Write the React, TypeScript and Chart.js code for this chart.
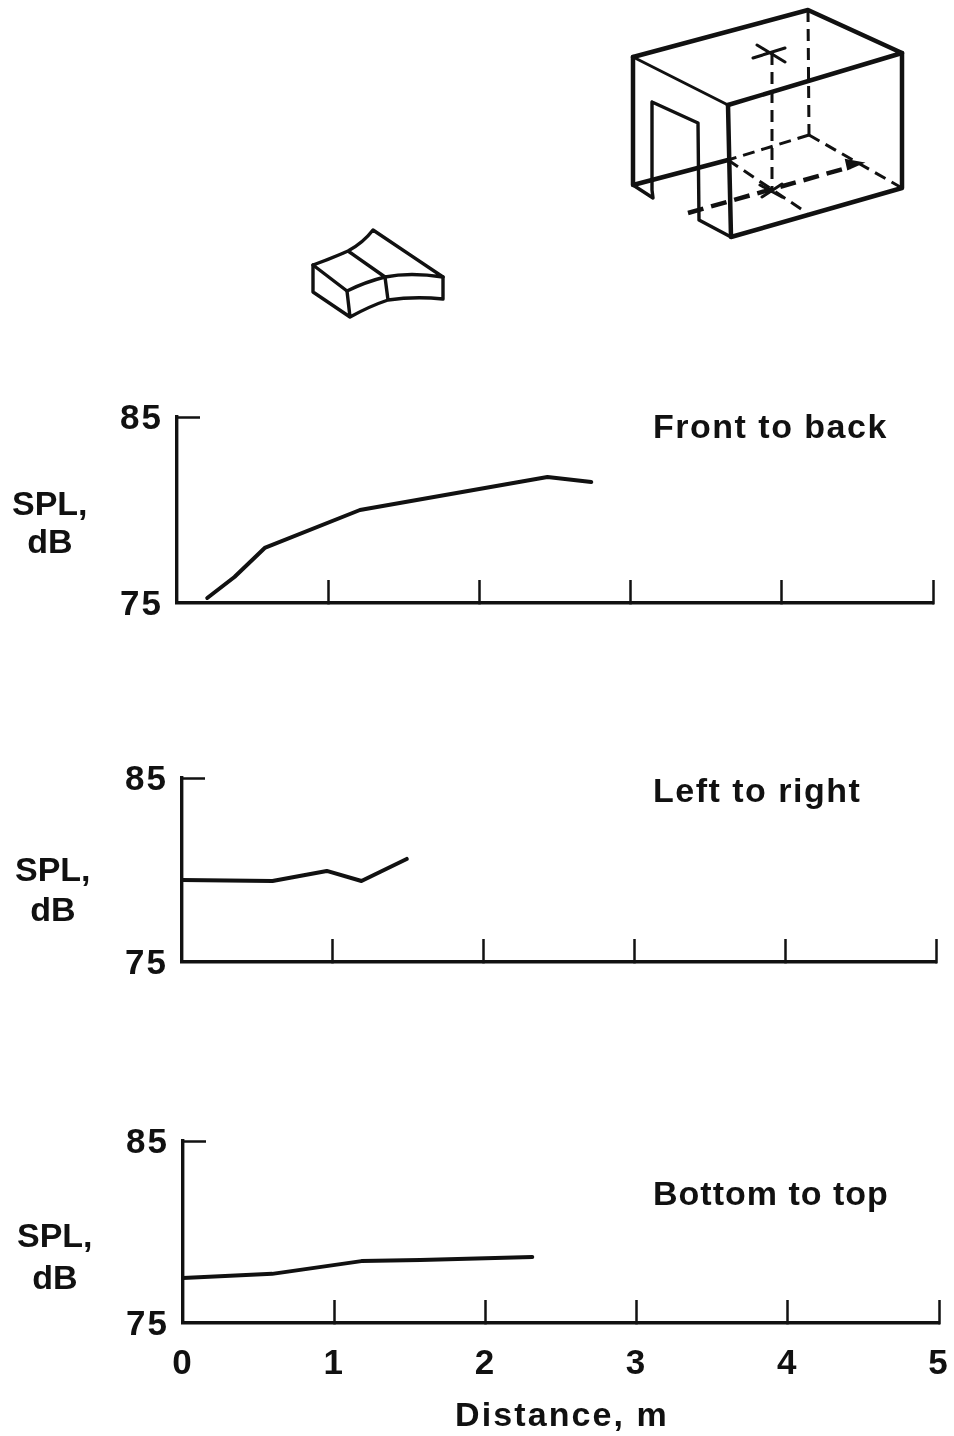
import React, { useEffect, useRef } from "react";
import { Chart, registerables } from "chart.js";

Chart.register(...registerables);

const frontX = [0.2, 0.38, 0.58, 1.21, 2.45, 2.74];
const frontY = [75.27, 76.4, 77.96, 80, 81.77, 81.5];
const leftX = [0, 0.6, 0.96, 1.19, 1.49];
const leftY = [79.46, 79.4, 79.95, 79.4, 80.6];
const bottomX = [0, 0.59, 1.18, 1.57, 2.31];
const bottomY = [77.47, 77.7, 78.4, 78.46, 78.63];
const xTicks = [0, 1, 2, 3, 4, 5];
const yTicks = [75, 85];

const FONT = "'Liberation Sans', Arial, sans-serif";
const INK = "#111";

type Panel = {
  xs: number[]; ys: number[]; left: number; right: number; top: number; bottom: number; showX: boolean;
};
const panels: Panel[] = [
  { xs: frontX, ys: frontY, left: 177, right: 933, top: 417, bottom: 603, showX: false },
  { xs: leftX, ys: leftY, left: 182, right: 936, top: 778, bottom: 962, showX: false },
  { xs: bottomX, ys: bottomY, left: 183, right: 939, top: 1141, bottom: 1323, showX: true },
];

const spacing = {
  id: "spacing",
  beforeDraw(chart: any) {
    chart.ctx.letterSpacing = "2px";
  },
};

function PanelChart({ p }: { p: Panel }) {
  const ref = useRef<HTMLCanvasElement>(null);
  const pad = 40;
  const axisH = p.showX ? 80 : 30;
  useEffect(() => {
    const chart = new Chart(ref.current!, {
      type: "line",
      plugins: [spacing],
      data: {
        datasets: [{
          data: p.xs.map((x, i) => ({ x, y: p.ys[i] })),
          borderColor: INK, borderWidth: 4, pointRadius: 0, tension: 0, fill: false,
          borderJoinStyle: "round", borderCapStyle: "round",
        }],
      },
      options: {
        animation: false, responsive: false, maintainAspectRatio: false,
        layout: { padding: { left: 0, top: pad, bottom: 0, right: 954 - p.right } },
        plugins: { legend: { display: false }, title: { display: false }, tooltip: { enabled: false } },
        scales: {
          x: {
            type: "linear", min: 0, max: 5,
            afterFit: (s: any) => { s.height = axisH; s.paddingLeft = 0; s.paddingRight = 0; },
            afterBuildTicks: (s: any) => { s.ticks = xTicks.map((value) => ({ value })); },
            grid: {
              drawOnChartArea: false, drawTicks: true, tickLength: -23, tickWidth: 2.5,
              tickColor: (c: any) => (c.tick && c.tick.value === 0 ? "rgba(0,0,0,0)" : INK),
            },
            border: { display: true, color: INK, width: 3.4 },
            ticks: {
              display: p.showX, autoSkip: false, maxRotation: 0, padding: 43, color: INK,
              font: { family: FONT, size: 35, weight: "bold" },
            },
          },
          y: {
            type: "linear", min: 75, max: 85,
            afterFit: (s: any) => { s.width = p.left; s.paddingTop = 0; s.paddingBottom = 0; },
            afterBuildTicks: (s: any) => { s.ticks = yTicks.map((value) => ({ value })); },
            grid: {
              drawOnChartArea: false, drawTicks: true, tickLength: -23, tickWidth: 2.5,
              tickColor: (c: any) => (c.tick && c.tick.value === 75 ? "rgba(0,0,0,0)" : INK),
            },
            border: { display: true, color: INK, width: 3.4 },
            ticks: {
              autoSkip: false, padding: 37, labelOffset: 2, color: INK,
              font: { family: FONT, size: 35, weight: "bold" },
            },
          },
        },
      },
    } as any);
    return () => chart.destroy();
  }, []);
  return (
    <canvas
      ref={ref}
      width={954}
      height={p.bottom - p.top + pad + axisH}
      style={{ position: "absolute", left: 0, top: p.top - pad, width: 954, height: p.bottom - p.top + pad + axisH }}
    />
  );
}

const labelStyle = (left: number, top: number, size = 34, ls = 1.5): React.CSSProperties => ({
  position: "absolute", left, top, fontFamily: FONT, fontWeight: 700, fontSize: size, lineHeight: 1,
  color: INK, whiteSpace: "nowrap", letterSpacing: ls,
});

const Spl = ({ x, y, lh }: { x: number; y: number; lh: number }) => (
  <div style={{ ...labelStyle(x, y), lineHeight: `${lh}px`, textAlign: "center", letterSpacing: 0 }}>
    SPL,<br />dB
  </div>
);

function Diagrams() {
  const thick = { stroke: INK, strokeWidth: 4.5, fill: "none", strokeLinecap: "round" as const, strokeLinejoin: "round" as const };
  const thin = { ...thick, strokeWidth: 3 };
  const dash = { ...thin, strokeDasharray: "12 7", strokeLinecap: "butt" as const };
  const dashThick = { ...thick, strokeDasharray: "16 8", strokeLinecap: "butt" as const };
  return (
    <svg width={954} height={340} style={{ position: "absolute", left: 0, top: 0 }}>
      <path d="M633 57L808 10L902 53L728 105" {...thick} />
      <path d="M633 57L728 105" {...thin} />
      <path d="M633 57V185L728 160" {...thick} />
      <path d="M652 102V190L653 198L633 185M652 102L698 123L699 220L731 237" {...thin} strokeWidth={3.4} />
      <path d="M728 105L731 237L902 188L902 53" {...thick} />
      <path d="M808 10L809 135" {...dash} />
      <path d="M809 135L728 160" {...dash} />
      <path d="M809 135L902 188" {...dash} />
      <path d="M728 160L807 213" {...dash} />
      <path d="M772 53L772 190" {...dash} />
      <path d="M688 213L850 167" {...dashThick} />
      <path d="M862 163L846 160L848 169Z" fill={INK} stroke={INK} strokeWidth={2} />
      <path d="M757 45L785 62M785 48L753 58M760 185L782 197M762 197L782 184" {...thin} />
      <path d="M313 265Q330 259 348 251Q363 243 373 230L443 277Q410 272 385 277Q365 282 347 291L313 265M348 251L385 277" {...thick} strokeWidth={3.4} />
      <path d="M313 265L313 292L350 317Q370 306 388 300Q415 296 443 299L443 277M347 291L350 317M385 277L388 300" {...thick} strokeWidth={3.4} />
    </svg>
  );
}

export default function App() {
  return (
    <div style={{ position: "absolute", left: 0, top: 0, width: 954, height: 1436, background: "#fff", overflow: "hidden" }}>
      <Diagrams />
      {panels.map((p, i) => <PanelChart key={i} p={p} />)}
      <div style={labelStyle(653, 409)}>Front to back</div>
      <div style={labelStyle(653, 773)}>Left to right</div>
      <div style={labelStyle(653, 1176, 34, 1)}>Bottom to top</div>
      <Spl x={12} y={484} lh={38} />
      <Spl x={15} y={849} lh={40} />
      <Spl x={17} y={1214} lh={42} />
      <div style={labelStyle(455, 1397, 34, 2.1)}>Distance, m</div>
    </div>
  );
}
